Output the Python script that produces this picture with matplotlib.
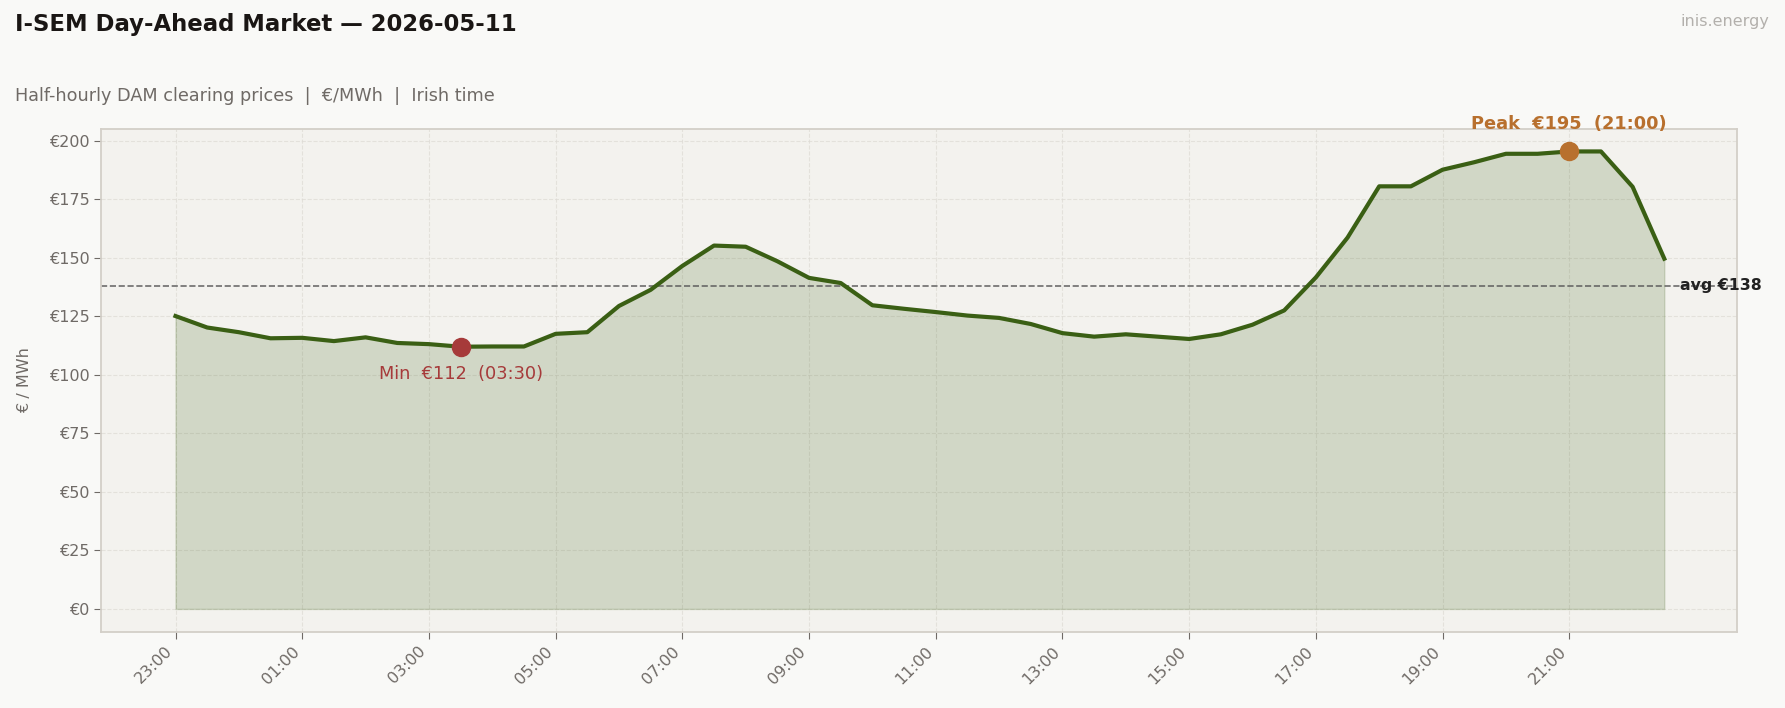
import matplotlib
matplotlib.use("Agg")
import matplotlib.pyplot as plt
import numpy as np

# half-hourly DAM prices, 23:00 (previous day) .. 22:30
times = ["23:00", "23:30", "00:00", "00:30", "01:00", "01:30", "02:00", "02:30",
         "03:00", "03:30", "04:00", "04:30", "05:00", "05:30", "06:00", "06:30",
         "07:00", "07:30", "08:00", "08:30", "09:00", "09:30", "10:00", "10:30",
         "11:00", "11:30", "12:00", "12:30", "13:00", "13:30", "14:00", "14:30",
         "15:00", "15:30", "16:00", "16:30", "17:00", "17:30", "18:00", "18:30",
         "19:00", "19:30", "20:00", "20:30", "21:00", "21:30", "22:00", "22:30"]
prices = [125.1, 120.2, 118.2, 115.6, 115.8, 114.4, 116.0, 113.6,
          113.1, 112.0, 112.1, 112.1, 117.5, 118.2, 129.4, 136.3,
          146.5, 155.2, 154.7, 148.5, 141.4, 139.2, 129.7, 128.2,
          126.8, 125.3, 124.3, 121.7, 117.8, 116.3, 117.3, 116.3,
          115.3, 117.3, 121.4, 127.5, 141.6, 158.6, 180.5, 180.5,
          187.6, 190.8, 194.4, 194.4, 195.4, 195.4, 180.3, 149.6]

BG = "#f9f9f7"
AX_BG = "#f3f2ee"
GREEN = "#3a5f14"
RED = "#a63a3a"
ORANGE = "#b8702e"
GREY = "#6f6a66"

x = np.arange(len(prices))
y = np.array(prices)
avg = y.mean()
imin = int(np.argmin(y))
imax = int(np.argmax(y))

fig = plt.figure(figsize=(17.85, 7.08), dpi=100, facecolor=BG)
ax = fig.add_axes([0.0568, 0.1076, 0.9164, 0.7108])
ax.set_facecolor(AX_BG)

ax.fill_between(x, 0, y, color=GREEN, alpha=0.18, linewidth=1)
ax.plot(x, y, color=GREEN, linewidth=3, zorder=3)

ax.axhline(avg, color="#555555", linestyle="--", linewidth=1.2, alpha=0.85, zorder=2)
ax.text(x[-1] + 0.5, avg, f"avg €{avg:.0f}", fontsize=11.3, fontweight="bold",
        color="#222222", va="center", ha="left")

ax.plot(x[imin], y[imin], "o", color=RED, markersize=13, zorder=4)
ax.annotate(f"Min  €{y[imin]:.0f}  ({times[imin]})", (x[imin], y[imin]),
            xytext=(0, -13.5), textcoords="offset points", ha="center", va="top",
            fontsize=12.8, color=RED)
ax.plot(x[imax], y[imax], "o", color=ORANGE, markersize=13, zorder=4)
ax.annotate(f"Peak  €{y[imax]:.0f}  ({times[imax]})", (x[imax], y[imax]),
            xytext=(0, 13.5), textcoords="offset points", ha="center", va="bottom",
            fontsize=12.8, color=ORANGE, fontweight="bold")

ax.set_xlim(-2.34, 49.3)
ax.set_ylim(-0.05 * y.max(), 1.05 * y.max())
ax.set_xticks(x[::4])
ax.set_xticklabels(times[::4], rotation=45, ha="right", fontsize=11.5, color=GREY)
ax.set_yticks(np.arange(0, 201, 25))
ax.set_yticklabels([f"€{v}" for v in range(0, 201, 25)], fontsize=11.5, color=GREY)
ax.tick_params(colors=GREY, length=5)
ax.set_ylabel("€ / MWh", fontsize=11.5, color=GREY, labelpad=12)

ax.grid(True, linestyle="--", color="#dddad4", linewidth=0.8, alpha=0.7)
ax.set_axisbelow(True)
for s in ax.spines.values():
    s.set_color("#d3cfc8")
    s.set_linewidth(1.3)

fig.text(0.0084, 0.965, "I-SEM Day-Ahead Market — 2026-05-11", fontsize=16.4,
         fontweight="bold", color="#1a1614", va="center", ha="left")
fig.text(0.0084, 0.865, "Half-hourly DAM clearing prices  |  €/MWh  |  Irish time",
         fontsize=12.7, color=GREY, va="center", ha="left")
fig.text(0.991, 0.969, "inis.energy", fontsize=11.5, color="#b3b0ac",
         va="center", ha="right")

fig.savefig("out.png", dpi=100, facecolor=BG)
